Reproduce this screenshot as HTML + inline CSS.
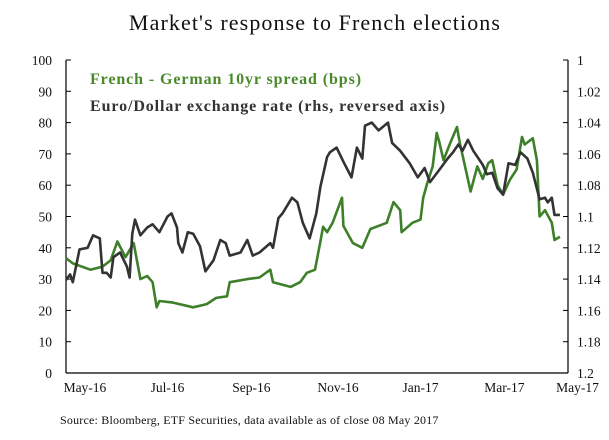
<!DOCTYPE html>
<html><head><meta charset="utf-8"><style>
html,body{margin:0;padding:0;background:#fff;}
svg{display:block;font-family:"Liberation Serif",serif;}
</style></head><body>
<svg id="chart" width="609" height="440" viewBox="0 0 609 440">
<text x="315" y="30" text-anchor="middle" font-size="22" letter-spacing="1.1" fill="#111">Market's response to French elections</text>
<text x="90" y="84" font-size="16" letter-spacing="0.9" font-weight="bold" fill="#4a8a2c">French - German 10yr spread (bps)</text>
<text x="90" y="111" font-size="16" letter-spacing="0.9" font-weight="bold" fill="#333">Euro/Dollar exchange rate (rhs, reversed axis)</text>
<g id="axes"></g>
<g id="series"></g>
<text x="60" y="424" font-size="12" letter-spacing="0.2" fill="#111">Source: Bloomberg, ETF Securities, data available as of close 08 May 2017</text>
</svg>
<script>
const leftTicks=[0,10,20,30,40,50,60,70,80,90,100];
const rightTicks=["1.2","1.18","1.16","1.14","1.12","1.1","1.08","1.06","1.04","1.02","1"];
const xLabels=["May-16","Jul-16","Sep-16","Nov-16","Jan-17","Mar-17","May-17"];
const xLabelDays=[14,75,137,201,262,324,378];
const spreadDays=[0,5,18,27,33,38,44,50,55,60,64,67,69,79,94,104,111,119,121,134,143,151,153,166,173,178,184,188,190,193,197,204,205,212,219,225,237,242,247,248,256,262,264,267,271,274,276,279,284,289,291,299,304,308,312,315,319,323,328,333,337,339,345,348,350,354,359,361,365];
const spreadValues=[36.7,35,33,34,36,42,37,41.5,30,31,29,21,23,22.5,21,22,24,24.5,29,30,30.5,33,29,27.5,29,32,33,42,46.7,45,48,56,47,41.5,40,46,48,54.6,52,45,48,49,56,60.7,66,76.7,73.5,68,73.5,78.6,73.5,58,66,62,67,68,60,57,61.7,65,75.4,73,75,68,50,52,48,42.5,43.5];
const fxDays=[0,3,5,10,16,20,25,27,30,33,35,40,45,47,49,51,55,60,64,69,75,78,82,83,86,90,94,99,103,109,114,118,121,129,134,138,143,151,153,157,160,167,171,175,180,185,188,193,195,200,205,211,215,219,221,226,231,238,241,247,254,260,265,269,276,282,286,290,293,297,301,308,311,315,319,323,327,332,336,341,345,350,354,356,359,361,365];
const fxValues=[1.1406,1.137,1.142,1.121,1.120,1.112,1.114,1.136,1.136,1.139,1.126,1.123,1.132,1.139,1.111,1.102,1.112,1.107,1.105,1.110,1.100,1.098,1.107,1.117,1.123,1.110,1.111,1.119,1.135,1.128,1.115,1.117,1.125,1.123,1.115,1.125,1.123,1.117,1.120,1.101,1.098,1.088,1.091,1.104,1.114,1.098,1.081,1.062,1.059,1.056,1.065,1.075,1.056,1.063,1.042,1.040,1.045,1.040,1.053,1.058,1.066,1.075,1.069,1.078,1.070,1.063,1.059,1.054,1.058,1.051,1.058,1.067,1.073,1.072,1.082,1.086,1.066,1.067,1.059,1.063,1.072,1.089,1.088,1.091,1.088,1.099,1.099];

const L=66,R=568,T=60,B=373;
const xS=d=>L+(d/371)*(R-L);
const yL=v=>B-(v/100)*(B-T);
const yR=v=>T+((v-1)/0.2)*(B-T);
const NS="http://www.w3.org/2000/svg";
const axes=document.getElementById('axes'),ser=document.getElementById('series');
function mk(tag,attrs,parent,txt){const e=document.createElementNS(NS,tag);for(const k in attrs)e.setAttribute(k,attrs[k]);if(txt!==undefined)e.textContent=txt;parent.appendChild(e);return e;}
let e;
e=mk('line',{x1:L,y1:T,x2:L,y2:B,stroke:'#000','stroke-width':1.2},axes);


e=mk('line',{x1:R,y1:T,x2:R,y2:B,stroke:'#000','stroke-width':1.2},axes);


e=mk('line',{x1:L,y1:B,x2:R,y2:B,stroke:'#000','stroke-width':1.2},axes);


leftTicks.forEach(v=>{
  const y=yL(v);
  mk('line',{x1:L,y1:y,x2:L+5,y2:y,stroke:'#000'},axes);
  e=mk('text',{x:52,y:y+5,'text-anchor':'end','font-size':13.5,fill:'#111'},axes,String(v));
  
  
});
rightTicks.forEach(t=>{
  const y=yR(parseFloat(t));
  mk('line',{x1:R-5,y1:y,x2:R,y2:y,stroke:'#000'},axes);
  e=mk('text',{x:577,y:y+5,'font-size':13.5,fill:'#111'},axes,t);
  
  
});
xLabels.forEach((t,i)=>{
  e=mk('text',{x:xS(xLabelDays[i]),y:392,'text-anchor':'middle','font-size':13.5,fill:'#111'},axes,t);
  
  
});
function line(days,vals,yf,color,name){
  const d=days.map((x,i)=>(i?'L':'M')+xS(x).toFixed(1)+','+yf(vals[i]).toFixed(1)).join(' ');
  const p=mk('path',{d:d,fill:'none',stroke:color,'stroke-width':2.6,'stroke-linejoin':'round'},ser);
  
  
}
line(spreadDays,spreadValues,yL,'#3e7f2a','spread-line');
line(fxDays,fxValues,yR,'#333333','eurusd-line');
</script>
</body></html>
